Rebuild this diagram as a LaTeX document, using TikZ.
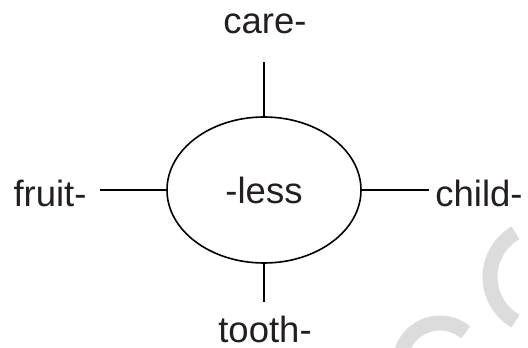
\documentclass[tikz,border=0pt]{standalone}
\usepackage{fontspec}
\setmainfont{Liberation Sans}
\usetikzlibrary{shapes.geometric}
\definecolor{txt}{HTML}{231F20}
\definecolor{wm}{HTML}{DCDCDC}
\tikzset{
  lbl/.style={font=\fontsize{36.5pt}{40pt}\selectfont, text=txt, inner sep=0pt, anchor=base},
  conn/.style={line width=1.6pt, black},
  hub/.style={ellipse, draw=black, line width=1.6pt, minimum width=194pt, minimum height=146pt, inner sep=0pt, font=\fontsize{36.5pt}{40pt}\selectfont, text=txt},
  wmark/.style={wm, line width=15pt}
}
\begin{document}
\begin{tikzpicture}[x=1pt,y=-1pt]
\useasboundingbox (0,0) rectangle (528,348);
% watermark arcs
\begin{scope}
\clip (0,0) rectangle (528,348);
\draw[wmark] (541,277) ++(120:51) arc[start angle=120, end angle=240, radius=51];
\draw[wmark] (440,363) ++(-50:40) arc[start angle=-50, end angle=-170, radius=40];
\end{scope}
\node[hub] (less) at (264,190) {-less};
\node[lbl] (care) at (265,33) {care-};
\node[lbl] (fruit) at (50,206) {fruit-};
\node[lbl] (child) at (479,206) {child-};
\node[lbl] (tooth) at (265,342) {tooth-};
\coordinate (ct) at (264,62);
\coordinate (cb) at (264,302);
\coordinate (cl) at (100,190);
\coordinate (cr) at (429,190);
\draw[conn] (less.north) -- (ct);
\draw[conn] (less.south) -- (cb);
\draw[conn] (less.west) -- (cl);
\draw[conn] (less.east) -- (cr);
\end{tikzpicture}
\end{document}
